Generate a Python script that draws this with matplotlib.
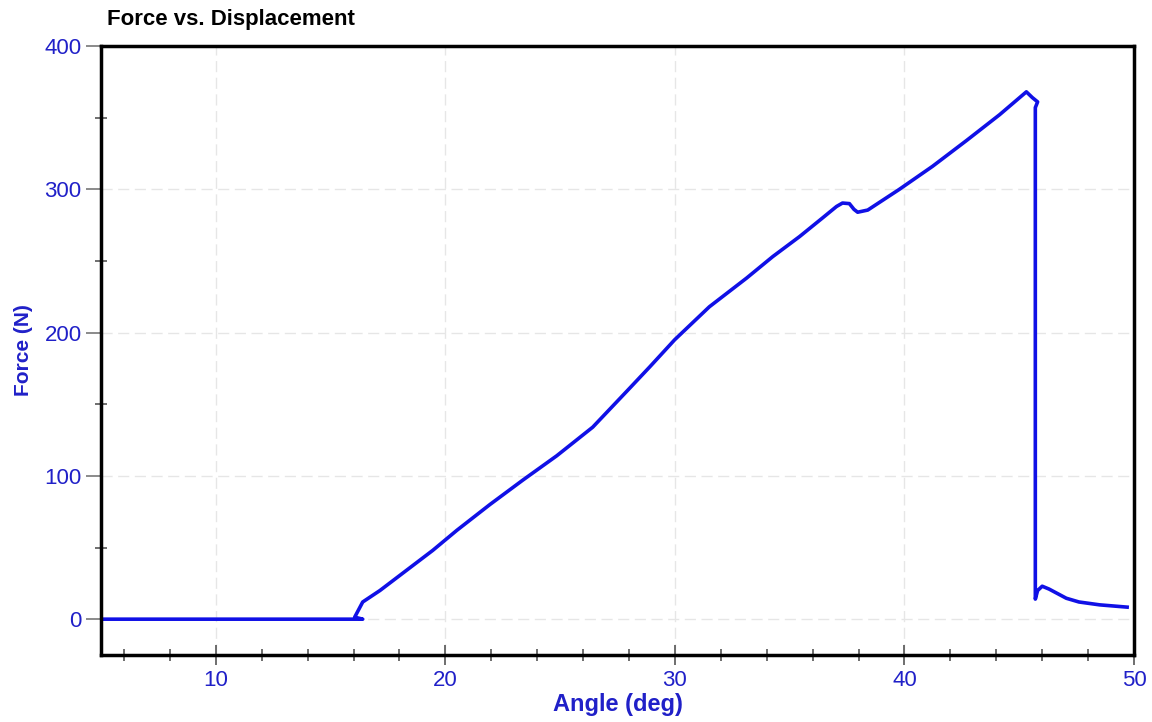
import matplotlib.pyplot as plt
from matplotlib.ticker import MultipleLocator

# data
angle = [5.0, 16.0, 16.4, 16.05, 16.4, 17.15, 18.3, 19.45, 20.5, 21.94, 23.37, 24.85,
         26.42, 27.9, 28.9, 29.99, 31.5, 33.12, 34.26, 35.43, 36.43, 37.04, 37.3,
         37.6, 37.8, 37.96, 38.4, 39.78, 41.22, 42.7, 44.14, 45.31, 45.57,
         45.8, 45.7, 45.7, 45.8, 46.0, 46.3, 47.05, 47.6, 48.5, 49.7]
force = [0.0, 0.0, 0.0, 1.4, 12.0, 20.0, 34.0, 48.0, 62.0, 80.0, 97.0, 114.0,
         134.0, 159.0, 176.0, 195.0, 218.0, 238.0, 253.0, 267.0, 280.0, 288.0, 290.4,
         290.0, 286.0, 284.0, 285.5, 300.0, 316.0, 334.0, 352.0, 368.0, 364.0,
         361.0, 357.0, 14.0, 20.0, 23.0, 21.0, 14.6, 12.0, 10.0, 8.4]

title = "Force vs. Displacement"
xlabel = "Angle (deg)"
ylabel = "Force (N)"

blue = "#1010e6"
label_blue = "#2020c8"

plt.rcParams['font.family'] = ['Liberation Sans', 'DejaVu Sans']

fig = plt.figure(figsize=(11.52, 7.22), dpi=100)
ax = fig.add_axes([0.0877, 0.0928, 0.8967, 0.8435])

ax.plot(angle, force, color=blue, linewidth=2.6, solid_joinstyle='round')

ax.set_xlim(5, 50)
ax.set_ylim(-25, 400)

ax.xaxis.set_major_locator(MultipleLocator(10))
ax.xaxis.set_minor_locator(MultipleLocator(2))
ax.yaxis.set_major_locator(MultipleLocator(100))
ax.yaxis.set_minor_locator(MultipleLocator(50))

ax.grid(True, which='major', color='#e6e6e6', linestyle=(0, (8, 4)), linewidth=1)
ax.set_axisbelow(True)

ax.tick_params(axis='x', which='major', direction='inout', length=14, width=1.2,
               color='#555555', labelcolor=label_blue, labelsize=16, pad=4)
ax.tick_params(axis='x', which='minor', direction='inout', length=9, width=1.2,
               color='#555555')
ax.tick_params(axis='y', which='major', direction='out', length=11, width=1.2,
               color='#777777', labelcolor=label_blue, labelsize=16, pad=3)
ax.tick_params(axis='y', which='minor', direction='inout', length=8, width=1.2,
               color='#555555')

for side in ['top', 'bottom', 'left', 'right']:
    ax.spines[side].set_linewidth(2.5)
    ax.spines[side].set_color('black')

ax.set_xlabel(xlabel, color=label_blue, fontsize=17, fontweight='bold', labelpad=1)
ax.set_ylabel(ylabel, color=label_blue, fontsize=15, fontweight='bold', labelpad=8)
fig.text(0.093, 0.965, title, fontsize=16, fontweight='bold', color='black')

fig.savefig("out.png", dpi=100)
